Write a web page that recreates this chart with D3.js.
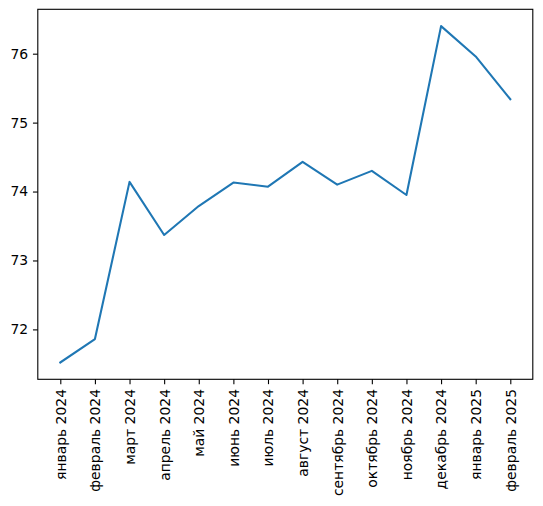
<!DOCTYPE html>
<html><head><meta charset="utf-8">
<script src="https://cdn.jsdelivr.net/npm/d3@7"></script>
<style>body{margin:0;background:#fff}svg{display:block}text{font-family:"DejaVu Sans",sans-serif}</style>
</head><body>
<script>
const months = ["январь 2024","февраль 2024","март 2024","апрель 2024","май 2024","июнь 2024","июль 2024","август 2024","сентябрь 2024","октябрь 2024","ноябрь 2024","декабрь 2024","январь 2025","февраль 2025"];
const values = [71.52,71.86,74.14,73.37,73.79,74.13,74.07,74.43,74.10,74.30,73.95,76.40,75.96,75.34];
const yTicks = [72,73,74,75,76];

const W=543,H=506;
const L=37.8,R=532.8,T=9.3,B=379.3;
const svg=d3.select("body").append("svg").attr("width",W).attr("height",H);
const n=months.length;
const x=d3.scaleLinear().domain([-0.65,n-1+0.65]).range([L,R]);
const ymin=d3.min(values),ymax=d3.max(values),pad=(ymax-ymin)*0.05;
const y=d3.scaleLinear().domain([ymin-pad,ymax+pad]).range([B,T]);
const fs=13.9,tl=4.86,tp=4.86;

// line
svg.append("path").datum(values)
  .attr("fill","none").attr("stroke","#1f77b4").attr("stroke-width",2.08)
  .attr("stroke-linejoin","round").attr("stroke-linecap","square")
  .attr("d",d3.line().x((d,i)=>x(i)).y(d=>y(d)));

// x axis
const xa=svg.append("g").attr("transform",`translate(0,${B})`)
  .call(d3.axisBottom(x).tickValues(d3.range(n)).tickFormat(i=>months[i]).tickSize(tl).tickPadding(tp));
xa.select(".domain").remove();
xa.selectAll("line").attr("stroke","#000").attr("stroke-width",1.1);
xa.selectAll("text").attr("font-size",fs).attr("fill","#000")
  .attr("transform",function(){return "rotate(-90)";})
  .attr("x",-(tl+tp)).attr("y",0).attr("dy","0.35em").attr("text-anchor","end");

// y axis
const ya=svg.append("g").attr("transform",`translate(${L},0)`)
  .call(d3.axisLeft(y).tickValues(yTicks).tickFormat(d3.format("d")).tickSize(tl).tickPadding(tp));
ya.select(".domain").remove();
ya.selectAll("line").attr("stroke","#000").attr("stroke-width",1.1);
ya.selectAll("text").attr("font-size",fs).attr("fill","#000");

// frame
svg.append("rect").attr("x",L).attr("y",T).attr("width",R-L).attr("height",B-T)
  .attr("fill","none").attr("stroke","#000").attr("stroke-width",1.1);
</script>
</body></html>
